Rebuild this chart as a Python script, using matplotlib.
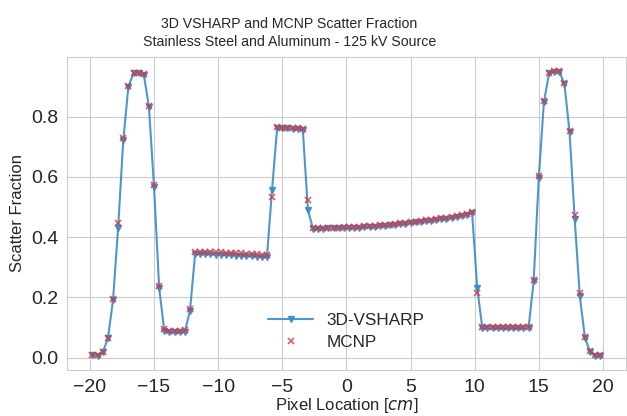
import numpy as np
import matplotlib.pyplot as plt
import seaborn as sns

sns.set_style('whitegrid')
plt.rcParams['font.family'] = ['Liberation Sans', 'DejaVu Sans']
plt.rcParams['mathtext.fontset'] = 'dejavusans'

# pixel centres, 0.4 cm pitch
x_cm = np.arange(-19.8, 19.81, 0.4)

vsharp = [
    0.008, 0.007, 0.018, 0.064, 0.190, 0.432, 0.722, 0.900, 0.944, 0.944,
    0.940, 0.833, 0.566, 0.232, 0.088, 0.085, 0.085, 0.085, 0.087, 0.155,
    0.344, 0.344, 0.343, 0.343, 0.342, 0.341, 0.341, 0.340, 0.339, 0.338,
    0.337, 0.336, 0.335, 0.334, 0.333, 0.557, 0.764, 0.763, 0.762, 0.760,
    0.760, 0.757, 0.489, 0.428, 0.428, 0.428, 0.429, 0.429, 0.429, 0.430,
    0.430, 0.431, 0.432, 0.433, 0.434, 0.435, 0.436, 0.438, 0.439, 0.441,
    0.443, 0.445, 0.447, 0.449, 0.451, 0.453, 0.455, 0.457, 0.460, 0.462,
    0.465, 0.468, 0.471, 0.474, 0.481, 0.231, 0.098, 0.097, 0.097, 0.097,
    0.097, 0.097, 0.097, 0.097, 0.097, 0.098, 0.255, 0.598, 0.849, 0.944,
    0.950, 0.950, 0.909, 0.748, 0.460, 0.204, 0.066, 0.019, 0.007, 0.007,
]

mcnp = [
    0.009, 0.008, 0.020, 0.066, 0.196, 0.447, 0.730, 0.903, 0.946, 0.945,
    0.941, 0.837, 0.574, 0.237, 0.094, 0.090, 0.090, 0.090, 0.091, 0.163,
    0.352, 0.352, 0.352, 0.351, 0.351, 0.350, 0.349, 0.348, 0.347, 0.346,
    0.345, 0.344, 0.343, 0.342, 0.341, 0.533, 0.765, 0.764, 0.763, 0.762,
    0.761, 0.759, 0.522, 0.431, 0.431, 0.431, 0.432, 0.432, 0.432, 0.433,
    0.433, 0.434, 0.435, 0.436, 0.437, 0.438, 0.439, 0.441, 0.442, 0.444,
    0.446, 0.448, 0.450, 0.452, 0.454, 0.456, 0.458, 0.460, 0.463, 0.465,
    0.468, 0.471, 0.474, 0.477, 0.484, 0.214, 0.102, 0.102, 0.102, 0.102,
    0.102, 0.102, 0.102, 0.102, 0.102, 0.103, 0.259, 0.602, 0.852, 0.946,
    0.951, 0.951, 0.912, 0.752, 0.475, 0.215, 0.070, 0.021, 0.008, 0.008,
]

fig = plt.figure(figsize=(6.27, 4.16), dpi=100)
ax = fig.add_axes([0.107, 0.111, 0.891, 0.752])

ax.plot(x_cm, vsharp, color='#3a8cc8', marker='v', markersize=5, linewidth=1.5,
        alpha=0.9, label='3D-VSHARP')
ax.plot(x_cm, mcnp, linestyle='none', color='#d9363e', marker='x', markersize=4,
        markeredgewidth=1.2, alpha=0.8, label='MCNP')

ax.set_xticks([-20, -15, -10, -5, 0, 5, 10, 15, 20])
ax.set_yticks([0.0, 0.2, 0.4, 0.6, 0.8])
ax.tick_params(labelsize=14, pad=3)
for s in ax.spines.values():
    s.set_color('#cccccc')

# title sits left of the axes centre in the original
ax.set_title('3D VSHARP and MCNP Scatter Fraction\nStainless Steel and Aluminum - 125 kV Source',
             fontsize=10.2, x=0.398, y=1.008, linespacing=1.35)
ax.set_xlabel('Pixel Location [$cm$]', fontsize=12, labelpad=0)
ax.set_ylabel('Scatter Fraction', fontsize=12, labelpad=4)

ax.legend(loc='lower left', bbox_to_anchor=(0.333, 0.015), frameon=False, fontsize=12.3,
          handlelength=2.6, labelspacing=0.4)

fig.savefig('out.png', dpi=100)
